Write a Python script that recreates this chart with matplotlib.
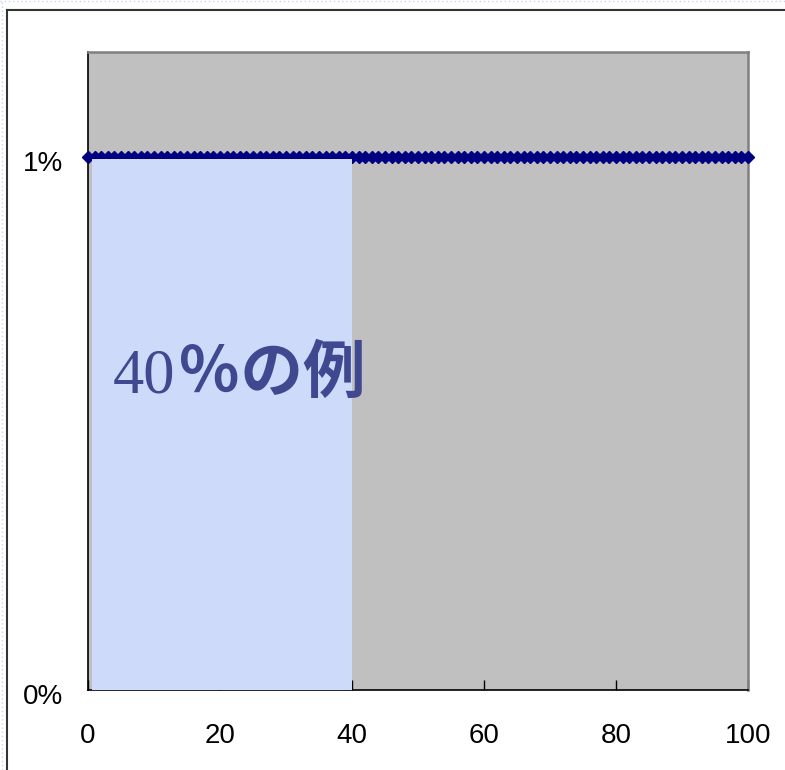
import numpy as np
import matplotlib.pyplot as plt
from matplotlib.lines import Line2D
from matplotlib.patches import Rectangle
from matplotlib.transforms import ScaledTranslation

# constant 1% rate over the whole range
x_vals = np.arange(0, 101)
rate_pct = [1.0] * len(x_vals)

shade_end = 40          # highlighted share of the range
x_ticks = [0, 20, 40, 60, 80, 100]
y_ticks = [0, 1]
y_labels = ['0%', '1%']
label_num = '40'
label_rest = '％の例'

plt.rcParams['font.family'] = ['Liberation Sans', 'DejaVu Sans']

fig = plt.figure(figsize=(7.85, 7.7), dpi=100)
ax = fig.add_axes([0.1121, 0.1039, 0.8408, 0.8286])
ax.set_facecolor('#C0C0C0')

ax.plot(x_vals, rate_pct, color='#000080', lw=3.5, marker='D', ms=6.5,
        mec='#000080', clip_on=False, zorder=3)

ax.add_patch(Rectangle((0.6, 0), shade_end - 0.6, 0.996, facecolor='#CDDAFA',
                       edgecolor='none', zorder=4))

ax.text(3.8, 0.559, label_num, family='Liberation Serif', fontsize=45,
        color='#404890', va='baseline', ha='left', zorder=5)
ax.text(13.7, 0.559, label_rest, family=['Noto Sans CJK JP', 'DejaVu Sans'],
        fontsize=45, fontweight='bold', color='#404890', va='baseline',
        ha='left', zorder=5)

ax.set_xlim(0, 100)
ax.set_ylim(0, 1.197)
ax.set_xticks(x_ticks)
ax.set_yticks(y_ticks)
ax.set_yticklabels(y_labels)
ax.tick_params(axis='x', direction='in', length=7, width=1, pad=24,
               labelsize=20)
ax.tick_params(axis='y', length=0, pad=18, labelsize=20)

# nudge the percent labels a little below their gridline
shift = ScaledTranslation(0, -4 / 100, fig.dpi_scale_trans)
for lbl in ax.get_yticklabels():
    lbl.set_transform(lbl.get_transform() + shift)

for side in ['top', 'right']:
    ax.spines[side].set_color('#808080')
    ax.spines[side].set_linewidth(1.8)
for side in ['left', 'bottom']:
    ax.spines[side].set_color('black')
    ax.spines[side].set_linewidth(1.2)

# page frame around the chart
fig.add_artist(Line2D([0.0089, 1.0], [0.987, 0.987], color='#333333', lw=1.5))
fig.add_artist(Line2D([0.0089, 0.0089], [0.0, 0.987], color='#333333', lw=1.5))
fig.add_artist(Line2D([0.0, 1.0], [0.9985, 0.9985], color='#C8D4F0', lw=1,
                      ls=(0, (1, 2))))
fig.add_artist(Line2D([0.0025, 0.0025], [0.0, 1.0], color='#C8D4F0', lw=1,
                      ls=(0, (1, 2))))

plt.savefig('out.png')
plt.close()
